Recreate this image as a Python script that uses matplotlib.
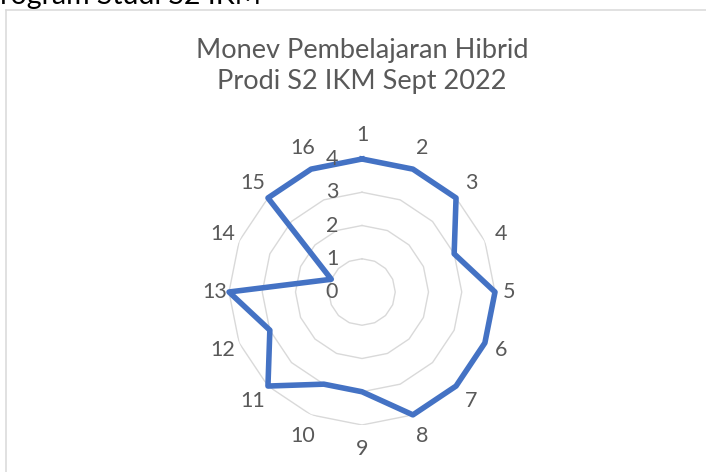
import numpy as np
import matplotlib
matplotlib.use("Agg")
import matplotlib.pyplot as plt
from matplotlib.lines import Line2D

# %%
## Data ##
categories = [str(i) for i in range(1, 17)]
values = [4, 4, 4, 3, 4, 4, 4, 4, 3, 3, 4, 3, 4, 1, 4, 4]
ring_levels = [0, 1, 2, 3, 4]
title = "Monev Pembelajaran Hibrid\nProdi S2 IKM Sept 2022"
header_text = "Program Studi S2 IKM"

# %%
## Figure setup ##
plt.rcParams['font.family'] = ['Lato', 'DejaVu Sans']
W, H = 706, 472
fig = plt.figure(figsize=(W / 100, H / 100), dpi=100)
fig.patch.set_facecolor('white')

text_grey = '#595959'
grid_grey = '#D9D9D9'
line_blue = '#4472C4'

# chart frame (only top and left visible in the crop)
fig.add_artist(Line2D([6 / W, 1], [1 - 10 / H, 1 - 10 / H], transform=fig.transFigure,
                      color=grid_grey, lw=1.1))
fig.add_artist(Line2D([6 / W, 6 / W], [0, 1 - 10 / H], transform=fig.transFigure,
                      color=grid_grey, lw=1.1))

# cut-off document heading above the chart
hdr_size = 20.5
hdr = fig.text(0, 1 - 4 / H, header_text, fontsize=hdr_size, color='black',
               ha='left', va='baseline')
renderer = fig.canvas.get_renderer()
tmp = fig.text(0, 0, "P", fontsize=hdr_size)
p_width = tmp.get_window_extent(renderer).width
tmp.remove()
hdr.set_x(-p_width / W)

fig.text(362 / W, 1 - 66 / H, title, fontsize=19.5, color=text_grey,
         ha='center', va='center', linespacing=1.3)

# %%
## Radar ##
cx, cy, R = 362, 292, 133
ax = fig.add_axes([(cx - R) / W, (H - cy - R) / H, 2 * R / W, 2 * R / H], polar=True)
ax.set_theta_zero_location('N')
ax.set_theta_direction(-1)
ax.set_ylim(0, 4)
ax.axis('off')

n = len(categories)
angles = np.linspace(0, 2 * np.pi, n, endpoint=False)
closed = np.append(angles, angles[0])

for lvl in ring_levels[1:]:
    ax.plot(closed, [lvl] * (n + 1), color=grid_grey, lw=1.0, zorder=1)

vals = values + values[:1]
ax.plot(closed, vals, color=line_blue, lw=4, solid_joinstyle='round', zorder=3,
        clip_on=False)

for lvl in ring_levels:
    ax.annotate(str(lvl), xy=(0, lvl), xytext=(-30, 0), textcoords='offset pixels',
                ha='center', va='center', fontsize=15.5, color=text_grey,
                annotation_clip=False)

for ang, lab in zip(angles, categories):
    r_lab = 4.42 + 0.3 * abs(np.cos(ang))
    ax.text(ang, r_lab, lab, ha='center', va='center', fontsize=15.5,
            color=text_grey, clip_on=False)

fig.savefig('out.png', dpi=100, facecolor='white')
